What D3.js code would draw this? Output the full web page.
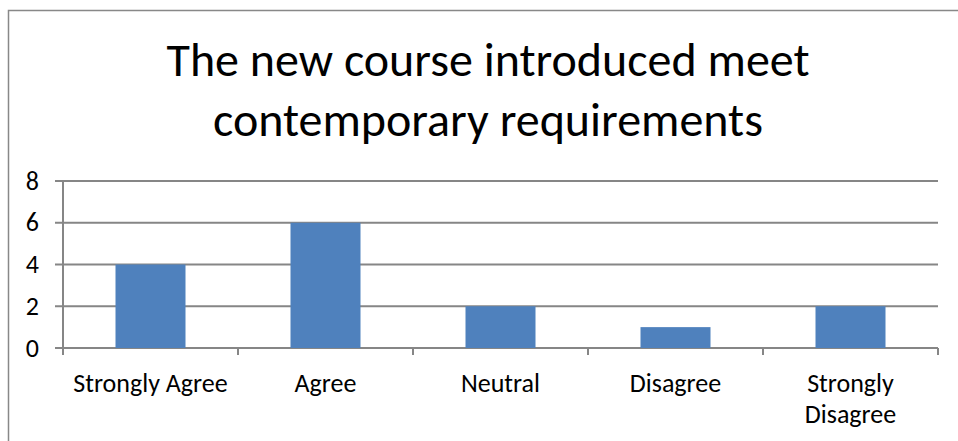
<!DOCTYPE html>
<html>
<head>
<meta charset="utf-8">
<script src="https://cdn.jsdelivr.net/npm/d3@7"></script>
<style>
  body { margin: 0; background: #fff; }
  text { font-family: Calibri, Carlito, Lato, "Open Sans", sans-serif; }
</style>
</head>
<body>
<svg width="958" height="441"></svg>
<script>
const categories = ["Strongly Agree", "Agree", "Neutral", "Disagree", "Strongly Disagree"];
const values = [4, 6, 2, 1, 2];
const yTicks = [0, 2, 4, 6, 8];
const titleLines = ["The new course introduced meet", "contemporary requirements"];

const svg = d3.select("svg");
const margin = {left: 63, right: 20, top: 181, bottom: 93};
const width = 958, height = 441;

// chart frame
svg.append("rect")
    .attr("x", 8.5).attr("y", 10.5)
    .attr("width", 960).attr("height", 440)
    .attr("fill", "none")
    .attr("stroke", "#888")
    .attr("stroke-width", 1.5);

svg.append("g").selectAll("text")
    .data(titleLines)
    .join("text")
      .attr("x", 488)
      .attr("y", (d, i) => 76 + i * 60)
      .attr("text-anchor", "middle")
      .attr("font-size", 48)
      .attr("fill", "#000")
      .text(d => d);

const x = d3.scaleBand()
    .domain(categories)
    .range([margin.left, width - margin.right])
    .paddingInner(0.6)
    .paddingOuter(0.3);

const xOuter = d3.scaleBand()
    .domain(categories)
    .range([margin.left, width - margin.right]);

const y = d3.scaleLinear()
    .domain([0, 8])
    .range([height - margin.bottom, margin.top]);

// gridlines
svg.append("g")
    .attr("stroke", "#868686")
    .attr("stroke-width", 2)
  .selectAll("line")
    .data(yTicks)
    .join("line")
      .attr("x1", margin.left - 8)
      .attr("x2", width - margin.right)
      .attr("y1", d => y(d))
      .attr("y2", d => y(d));

// y axis line
svg.append("line")
    .attr("x1", margin.left).attr("x2", margin.left)
    .attr("y1", y(8)).attr("y2", y(0) + 7)
    .attr("stroke", "#868686").attr("stroke-width", 2);

// x ticks at band edges
const edges = categories.map(c => xOuter(c)).concat([width - margin.right]);
svg.append("g")
    .attr("stroke", "#868686")
    .attr("stroke-width", 2)
  .selectAll("line")
    .data(edges.slice(1))
    .join("line")
      .attr("x1", d => d).attr("x2", d => d)
      .attr("y1", y(0)).attr("y2", y(0) + 7);

// bars
svg.append("g")
    .attr("fill", "#4F81BD")
  .selectAll("rect")
    .data(values)
    .join("rect")
      .attr("x", (d, i) => x(categories[i]))
      .attr("width", x.bandwidth())
      .attr("y", d => y(d))
      .attr("height", d => y(0) - y(d));

// y labels
svg.append("g").selectAll("text")
    .data(yTicks)
    .join("text")
      .attr("x", 39)
      .attr("y", d => y(d))
      .attr("dy", "0.33em")
      .attr("text-anchor", "end")
      .attr("font-size", 26)
      .text(d => d);

// x labels, wrapping long ones like the original
const wrapAt = {"Strongly Disagree": ["Strongly", "Disagree"]};
const xl = svg.append("g").selectAll("text")
    .data(categories)
    .join("text")
      .attr("x", d => xOuter(d) + xOuter.bandwidth() / 2)
      .attr("y", 392)
      .attr("text-anchor", "middle")
      .attr("font-size", 26);
xl.each(function(d) {
    const lines = wrapAt[d] || [d];
    d3.select(this).selectAll("tspan")
        .data(lines)
        .join("tspan")
          .attr("x", xOuter(d) + xOuter.bandwidth() / 2)
          .attr("dy", (l, i) => i ? 31 : 0)
          .text(l => l);
});
</script>
</body>
</html>
